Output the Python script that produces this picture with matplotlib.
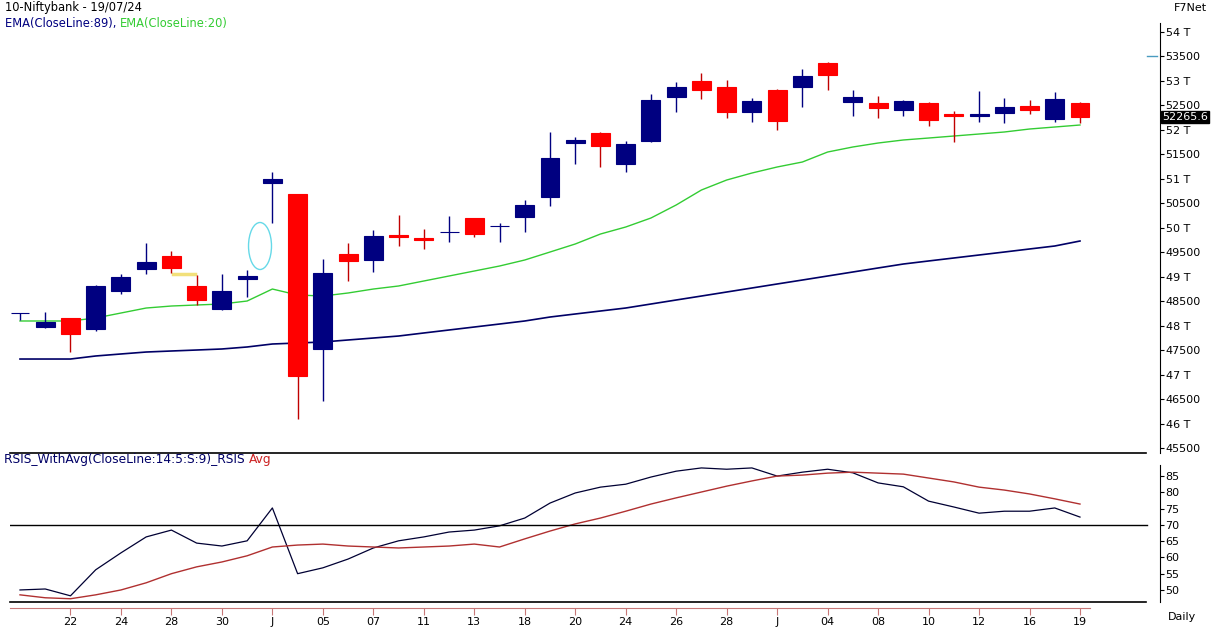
import matplotlib.pyplot as plt
from matplotlib.patches import Ellipse
from matplotlib.lines import Line2D
import numpy as np

plt.rcParams['font.family'] = 'DejaVu Sans'
plt.rcParams['font.size'] = 8

# daily OHLC
opens = [48255, 47973, 48157, 47932, 48709, 49158, 49424, 48811, 48341, 48954,
         50915, 50690, 47524, 49465, 49342, 49843, 49791, 49905, 50200, 50030,
         50220, 50629, 51732, 51937, 51303, 51773, 52672, 52999, 52876, 52366,
         52815, 52876, 53367, 52570, 52549, 52406, 52549, 52325, 52294, 52345,
         52488, 52223, 52549]
closes = [48260, 48075, 47830, 48811, 48995, 49301, 49179, 48525, 48709, 49015,
          50997, 46972, 49076, 49322, 49832, 49822, 49751, 49920, 49873, 50040,
          50466, 51426, 51794, 51671, 51712, 52611, 52876, 52815, 52366, 52590,
          52182, 53101, 53122, 52672, 52447, 52590, 52202, 52284, 52315, 52468,
          52406, 52631, 52265.6]
highs = [48260, 48280, 48157, 48831, 49056, 49689, 49526, 49036, 49056, 49138,
         51140, 50690, 49362, 49689, 49955, 50261, 49975, 50241, 50210, 50098,
         50568, 51957, 51855, 51950, 51773, 52733, 52978, 53162, 53019, 52652,
         52830, 53244, 53380, 52815, 52692, 52611, 52560, 52386, 52795, 52652,
         52611, 52774, 52570]
lows = [48116, 47953, 47462, 47891, 48647, 49056, 49076, 48423, 48320, 48586,
        50098, 46094, 46461, 48913, 49097, 49628, 49567, 49710, 49812, 49710,
        49914, 50445, 51303, 51242, 51140, 51753, 52366, 52631, 52243, 52161,
        51998, 52468, 52815, 52284, 52243, 52284, 52080, 51753, 52161, 52141,
        52325, 52161, 52141]

ema20 = [48096, 48096, 48096, 48157, 48259, 48361, 48402, 48423, 48443, 48504,
         48749, 48627, 48606, 48668, 48749, 48811, 48913, 49015, 49117, 49219,
         49342, 49505, 49669, 49873, 50016, 50200, 50466, 50772, 50976, 51119,
         51242, 51344, 51548, 51651, 51732, 51794, 51834, 51875, 51916, 51957,
         52018, 52059, 52100]
ema89 = [47319, 47319, 47319, 47381, 47422, 47462, 47483, 47503, 47524, 47565,
         47626, 47646, 47667, 47708, 47748, 47789, 47851, 47912, 47973, 48034,
         48096, 48177, 48239, 48300, 48361, 48443, 48525, 48606, 48688, 48770,
         48852, 48933, 49015, 49097, 49179, 49260, 49322, 49383, 49444, 49505,
         49567, 49628, 49730]

rsi = [50.0, 50.3, 48.2, 56.2, 61.4, 66.3, 68.4, 64.4, 63.5, 65.1,
       75.2, 55.0, 56.8, 59.5, 62.9, 65.1, 66.3, 67.8, 68.4, 69.7,
       72.1, 76.7, 79.8, 81.6, 82.5, 84.7, 86.5, 87.5, 87.1, 87.5,
       85.0, 86.2, 87.1, 86.0, 82.9, 81.7, 77.3, 75.5, 73.6, 74.2,
       74.2, 75.2, 72.4]
rsi_avg = [48.5, 47.6, 47.3, 48.5, 50.0, 52.2, 55.0, 57.1, 58.6, 60.5,
           63.2, 63.8, 64.1, 63.5, 63.2, 62.9, 63.2, 63.5, 64.1, 63.2,
           65.7, 68.1, 70.3, 72.1, 74.2, 76.4, 78.3, 80.1, 81.9, 83.5,
           85.0, 85.3, 85.9, 86.2, 85.9, 85.6, 84.4, 83.2, 81.6, 80.7,
           79.5, 78.0, 76.4]

tick_pos = list(range(2, 43, 2))
tick_labels = ['22', '24', '28', '30', 'J', '05', '07', '11', '13', '18', '20',
               '24', '26', '28', 'J', '04', '08', '10', '12', '16', '19']

NAVY = '#000080'
RED = '#ff0000'
WICK_RED = '#c00000'
GREEN = '#33cc33'

W, H = 1212, 627
fig = plt.figure(figsize=(W / 100, H / 100), dpi=100)
ax = fig.add_axes([10 / W, 1 - 453 / H, 1150 / W, 430 / H])
ax2 = fig.add_axes([10 / W, 1 - 602 / H, 1150 / W, 137 / H])

x = np.arange(len(opens))
xlim = (-0.396, 45.17)

# candles
for i in x:
    o, c, h, l = opens[i], closes[i], highs[i], lows[i]
    up = c >= o
    col = NAVY if up else RED
    wcol = NAVY if up else WICK_RED
    ax.vlines(i, l, h, color=wcol, lw=1.0, zorder=2)
    ax.bar(i, c - o, bottom=o, width=0.75, color=col, edgecolor=col,
           lw=0.8, zorder=3)

ax.plot(x, ema20, color=GREEN, lw=1.0, zorder=1)
ax.plot(x, ema89, color='#000066', lw=1.2, zorder=1)

# drawings on the chart
ax.add_patch(Ellipse((9.51, 49628), 0.91, 960, fill=False,
                     edgecolor='#66d9e8', lw=1.0))
ax.plot([6.06, 6.93], [49056, 49056], color='#f2e07a', lw=2.5, zorder=1)
ax.plot([44.65, 45.05], [53500, 53500], color='#4a9bc0', lw=1.0,
        clip_on=False)

ax.set_xlim(*xlim)
ax.set_ylim(45399, 54184)
yt = np.arange(45500, 54001, 500)
ax.set_yticks(yt)
ax.set_yticklabels([f'{v // 1000} T' if v % 1000 == 0 else str(v) for v in yt])
ax.yaxis.tick_right()
ax.tick_params(axis='y', direction='out', length=3, pad=1, colors='black',
               labelsize=8)
ax.set_xticks([])
for s in ['left', 'top', 'bottom']:
    ax.spines[s].set_visible(False)
ax.spines['right'].set_linewidth(0.8)

# last price tag
ax.text(1.0015, closes[-1], f'{closes[-1]:.1f}', transform=ax.get_yaxis_transform(),
        ha='left', va='center', color='white', fontsize=8,
        bbox=dict(boxstyle='square,pad=0.1', fc='black', ec='black'))

# RSI panel
ax2.plot(x, rsi, color='#000033', lw=0.9)
ax2.plot(x, rsi_avg, color='#b03030', lw=1.0)
ax2.axhline(70, xmin=0, xmax=1137 / 1150, color='black', lw=1.0)
ax2.set_xlim(*xlim)
ax2.set_ylim(46.3, 88.4)
ax2.set_yticks(range(50, 86, 5))
ax2.yaxis.tick_right()
ax2.tick_params(axis='y', direction='out', length=3, pad=1, labelsize=8)
ax2.set_xticks(tick_pos)
ax2.set_xticklabels(tick_labels)
ax2.tick_params(axis='x', direction='out', length=5, color='#c87878',
                labelsize=8, pad=2)
for s in ['left', 'top']:
    ax2.spines[s].set_visible(False)
ax2.spines['bottom'].set_position(('outward', 4))
ax2.spines['bottom'].set_color('#c87878')
ax2.spines['bottom'].set_bounds(xlim[0], 42.4)
ax2.spines['right'].set_linewidth(0.8)

# panel borders
for yp in (453, 602):
    fig.add_artist(Line2D([10 / W, 1146 / W], [1 - yp / H] * 2,
                          color='black', lw=1.2))

# texts
fig.text(5 / W, 1 - 8 / H, '10-Niftybank - 19/07/24', va='center', fontsize=8.3)
t1 = fig.text(5 / W, 1 - 23 / H, 'EMA(CloseLine:89), ', va='center',
              fontsize=8.3, color='#000080')
fig.canvas.draw()
bb = t1.get_window_extent()
fig.text(bb.x1 / W, 1 - 23 / H, 'EMA(CloseLine:20)', va='center',
         fontsize=8.3, color=GREEN)
t2 = fig.text(4 / W, 1 - 460 / H, 'RSIS_WithAvg(CloseLine:14:5:S:9)_RSIS ',
              va='center', fontsize=8.8, color='#000066')
fig.canvas.draw()
bb = t2.get_window_extent()
fig.text(bb.x1 / W, 1 - 460 / H, 'Avg', va='center', fontsize=8.8,
         color='#cc2222')
fig.text(1190 / W, 1 - 8 / H, 'F7Net', ha='center', va='center', fontsize=8)
fig.text(1182 / W, 1 - 617 / H, 'Daily', ha='center', va='center', fontsize=8)

fig.savefig('out.png', dpi=100, facecolor='white')
